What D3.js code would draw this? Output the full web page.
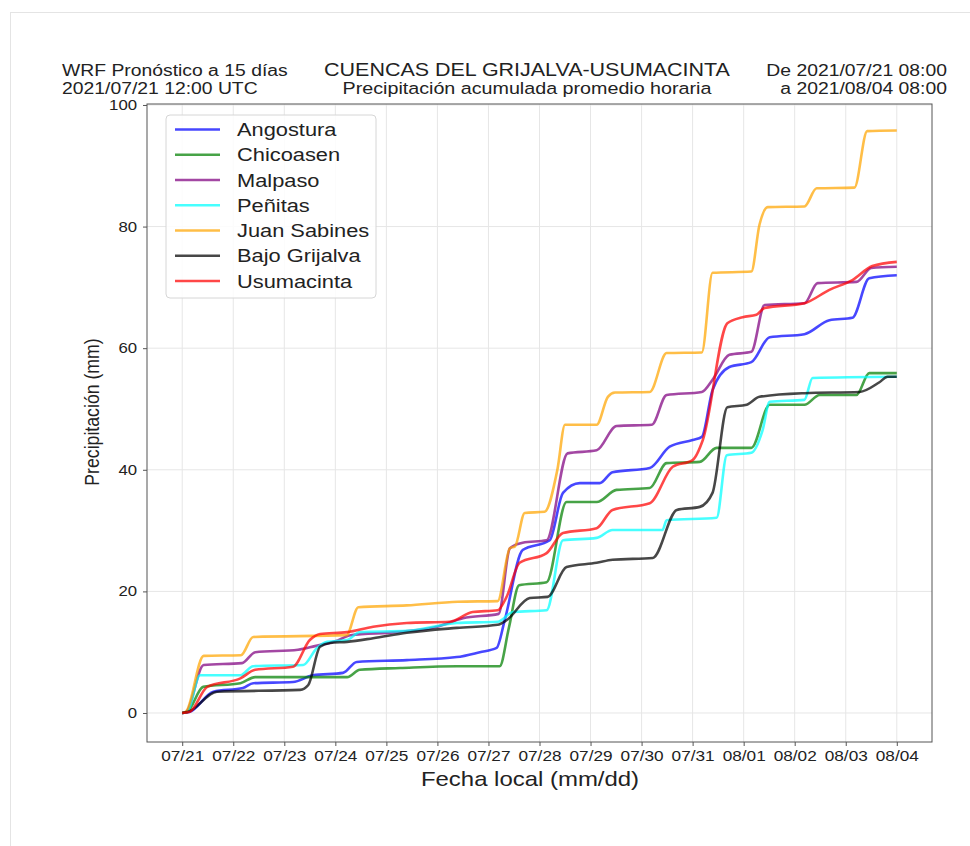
<!DOCTYPE html>
<html>
<head>
<meta charset="utf-8">
<script src="https://cdn.jsdelivr.net/npm/d3@7"></script>
<style>
  html, body { margin: 0; padding: 0; background: #ffffff; }
  svg { display: block; }
  text { font-family: "Liberation Sans", Arial, Helvetica, sans-serif; fill: #222; }
</style>
</head>
<body>
<svg id="chart" width="970" height="846"></svg>
<script>
// ---------------- DATA ----------------
// time in days from 07/21, value in mm (accumulated precipitation)
const seriesNames = ["Angostura", "Chicoasen", "Malpaso", "Peñitas", "Juan Sabines", "Bajo Grijalva", "Usumacinta"];
const seriesColors = ["#0000ff", "#008000", "#800080", "#00ffff", "#ffa500", "#000000", "#ff0000"];

const angostura = [[0,0],[0.15,0.2],[0.61,3.5],[1.19,4.1],[1.39,4.9],[2.17,5.1],[2.56,6.2],[3.15,6.6],[3.42,8.4],[4.4,8.7],[5.38,9.2],[5.83,10.0],[6.16,10.7],[6.32,15.3],[6.67,26.8],[7.2,28.4],[7.46,36.2],[7.79,37.8],[8.18,37.8],[8.43,39.6],[9.16,40.3],[9.55,43.8],[10.0,44.9],[10.18,45.4],[10.39,53.1],[10.72,56.9],[11.15,57.7],[11.51,61.8],[12.19,62.3],[12.68,64.6],[13.13,65.0],[13.46,71.5],[14,72.0]];
const chicoasen = [[0,0],[0.1,0.2],[0.41,4.3],[1.14,4.9],[1.43,5.9],[3.23,5.9],[3.48,7.1],[4.27,7.4],[5.38,7.7],[6.22,7.7],[6.4,14.0],[6.6,21.0],[7.14,21.5],[7.53,34.7],[8.12,34.7],[8.51,36.7],[9.16,37.0],[9.49,41.1],[10.14,41.3],[10.47,43.6],[11.15,43.6],[11.51,50.7],[12.19,50.7],[12.49,52.3],[13.21,52.3],[13.46,55.9],[14,55.9]];
const malpaso = [[0,0],[0.08,0.2],[0.42,7.9],[1.17,8.2],[1.43,10.0],[2.27,10.4],[2.6,11.0],[3.0,11.8],[3.3,12.8],[4.2,13.3],[5.0,14.2],[5.5,15.6],[6.2,16.3],[6.42,27.1],[6.67,28.0],[7.14,28.4],[7.55,42.7],[8.12,43.2],[8.51,47.2],[9.2,47.4],[9.49,52.3],[10.18,52.8],[10.39,54.8],[10.72,58.9],[11.15,59.4],[11.41,67.1],[12.19,67.4],[12.45,70.7],[13.21,70.9],[13.5,73.2],[14,73.4]];
const penitas = [[0,0],[0.1,0.2],[0.35,6.2],[1.14,6.2],[1.39,7.7],[2.37,7.9],[2.64,10.7],[2.84,11.7],[3.23,12.0],[3.48,13.3],[4.4,13.5],[5.38,14.8],[6.18,15.0],[6.48,16.6],[7.14,16.9],[7.46,28.4],[8.12,28.8],[8.43,30.1],[9.41,30.1],[9.49,31.7],[10.47,32.1],[10.67,42.4],[11.15,42.8],[11.37,46.5],[11.51,51.2],[12.19,51.5],[12.35,55.1],[14,55.3]];
const juanSabines = [[0,0],[0.08,0.3],[0.42,9.4],[1.15,9.5],[1.39,12.5],[3.22,12.8],[3.45,17.4],[4.4,17.7],[5.4,18.3],[6.18,18.4],[6.42,27.1],[6.52,27.4],[6.71,32.9],[7.1,33.1],[7.35,40.0],[7.5,47.4],[8.12,47.4],[8.34,52.0],[8.48,52.7],[9.16,52.8],[9.49,59.2],[10.18,59.3],[10.39,72.4],[11.15,72.6],[11.31,80.3],[11.47,83.2],[12.19,83.3],[12.43,86.3],[13.17,86.4],[13.42,95.7],[14,95.8]];
const bajoGrijalva = [[0,0],[0.12,0.2],[0.68,3.5],[2.31,3.8],[2.47,4.6],[2.7,10.9],[2.9,11.5],[3.23,11.7],[3.74,12.3],[4.4,13.2],[5.38,14.0],[6.18,14.5],[6.36,15.3],[6.81,18.9],[7.16,19.1],[7.53,24.0],[8.12,24.7],[8.43,25.2],[9.22,25.5],[9.69,33.4],[10.14,33.9],[10.39,36.2],[10.68,50.3],[11.06,50.7],[11.31,52.0],[12.19,52.6],[13.27,52.8],[13.66,54.4],[13.82,55.3],[14,55.3]];
const usumacinta = [[0,0],[0.15,0.2],[0.49,4.3],[1.14,5.7],[1.43,7.1],[2.17,7.6],[2.5,12.0],[2.7,13.0],[3.23,13.3],[3.74,14.2],[4.4,14.8],[5.24,15.0],[5.69,16.6],[6.18,16.9],[6.35,19.0],[6.61,24.7],[7.14,26.3],[7.46,29.6],[8.12,30.4],[8.43,33.4],[9.16,34.5],[9.61,40.5],[10.0,41.6],[10.2,44.9],[10.68,64.1],[10.98,65.1],[11.25,65.5],[11.41,66.6],[12.19,67.4],[12.68,69.6],[13.13,71.2],[13.52,73.5],[14,74.2]];

const seriesValues = [angostura, chicoasen, malpaso, penitas, juanSabines, bajoGrijalva, usumacinta];

const xTickDays = [0,1,2,3,4,5,6,7,8,9,10,11,12,13,14];
const xTickLabels = ["07/21","07/22","07/23","07/24","07/25","07/26","07/27","07/28","07/29","07/30","07/31","08/01","08/02","08/03","08/04"];
const yTickValues = [0,20,40,60,80,100];
const yTickLabels = ["0","20","40","60","80","100"];

const titleLeft = ["WRF Pronóstico a 15 días", "2021/07/21 12:00 UTC"];
const titleCenter = ["CUENCAS DEL GRIJALVA-USUMACINTA", "Precipitación acumulada promedio horaria"];
const titleRight = ["De 2021/07/21 08:00", "a 2021/08/04 08:00"];
const xAxisLabel = "Fecha local (mm/dd)";
const yAxisLabel = "Precipitación (mm)";

// ---------------- LAYOUT ----------------
const SX = 1.18; // horizontal stretch of the original figure's text
const plot = { left: 147, right: 932, top: 104, bottom: 742 };

const svg = d3.select("#chart");

// faint page frame of the reference image
svg.append("rect").attr("x", 10.5).attr("y", 12.5).attr("width", 980).attr("height", 860)
  .attr("fill", "none").attr("stroke", "#e4e4e4").attr("stroke-width", 1);

const x = d3.scaleLinear().domain([-0.69, 14.69]).range([plot.left, plot.right]);
const y = d3.scaleLinear().domain([-4.77, 100.16]).range([plot.bottom, plot.top]);

function stext(parent, px, py, str, size, anchor, extra) {
  return parent.append("text")
    .attr("transform", `translate(${px},${py}) scale(${SX},1)` + (extra || ""))
    .attr("text-anchor", anchor)
    .attr("font-size", size)
    .text(str);
}

// grid
const grid = svg.append("g");
grid.selectAll("line.vx").data(xTickDays).join("line")
  .attr("x1", d => x(d)).attr("x2", d => x(d))
  .attr("y1", plot.top).attr("y2", plot.bottom)
  .attr("stroke", "#e6e6e6").attr("stroke-width", 1);
grid.selectAll("line.hy").data(yTickValues).join("line")
  .attr("x1", plot.left).attr("x2", plot.right)
  .attr("y1", d => y(d)).attr("y2", d => y(d))
  .attr("stroke", "#e6e6e6").attr("stroke-width", 1);

// axes
const xAxis = d3.axisBottom(x).tickValues(xTickDays)
  .tickFormat((d, i) => xTickLabels[i]).tickSize(4).tickSizeOuter(0).tickPadding(5);
const gx = svg.append("g").attr("transform", `translate(0,${plot.bottom})`).call(xAxis);
gx.select(".domain").remove();
gx.selectAll(".tick line").attr("stroke", "#555");
gx.selectAll(".tick text")
  .attr("font-size", 14.6)
  .attr("font-family", "Liberation Sans, Arial, sans-serif")
  .attr("fill", "#222")
  .attr("transform", `scale(${SX},1)`);

const yAxis = d3.axisLeft(y).tickValues(yTickValues)
  .tickFormat((d, i) => yTickLabels[i]).tickSize(4).tickSizeOuter(0).tickPadding(6);
const gy = svg.append("g").attr("transform", `translate(${plot.left},0)`).call(yAxis);
gy.select(".domain").remove();
gy.selectAll(".tick line").attr("stroke", "#555");
gy.selectAll(".tick text")
  .attr("font-size", 14.2)
  .attr("font-family", "Liberation Sans, Arial, sans-serif")
  .attr("fill", "#222")
  .attr("x", -10 / SX)
  .attr("transform", `scale(${SX},1)`);

// lines
const line = d3.line().x(d => x(d[0])).y(d => y(d[1])).curve(d3.curveMonotoneX);
const lines = svg.append("g");
seriesValues.forEach((vals, i) => {
  lines.append("path").datum(vals)
    .attr("d", line)
    .attr("fill", "none")
    .attr("stroke", seriesColors[i])
    .attr("stroke-opacity", 0.72)
    .attr("stroke-width", 2.6)
    .attr("stroke-linejoin", "round");
});

// frame
svg.append("rect")
  .attr("x", plot.left).attr("y", plot.top)
  .attr("width", plot.right - plot.left).attr("height", plot.bottom - plot.top)
  .attr("fill", "none").attr("stroke", "#555").attr("stroke-width", 1);

// legend
const leg = svg.append("g");
leg.append("rect").attr("x", 166).attr("y", 115).attr("width", 210).attr("height", 183)
  .attr("rx", 4).attr("fill", "#ffffff").attr("fill-opacity", 0.85)
  .attr("stroke", "#d6d6d6").attr("stroke-width", 1);
seriesNames.forEach((name, i) => {
  const ry = 129.5 + i * 25.25;
  leg.append("line").attr("x1", 175).attr("x2", 220).attr("y1", ry).attr("y2", ry)
    .attr("stroke", seriesColors[i]).attr("stroke-opacity", 0.72).attr("stroke-width", 2.6);
  stext(leg, 237, ry + 6.5, name, 18.5, "start");
});

// titles
stext(svg, 62, 76, titleLeft[0], 16.4, "start");
stext(svg, 62, 94, titleLeft[1], 16.4, "start");
stext(svg, 527, 76, titleCenter[0], 18.2, "middle");
stext(svg, 527, 94, titleCenter[1], 16.7, "middle");
stext(svg, 947, 76, titleRight[0], 16.4, "end");
stext(svg, 947, 94, titleRight[1], 16.4, "end");

// axis labels
stext(svg, 530, 786, xAxisLabel, 20.3, "middle");
svg.append("text")
  .attr("transform", `translate(99,412) scale(${SX},1) rotate(-90)`)
  .attr("text-anchor", "middle")
  .attr("font-size", 17.7)
  .text(yAxisLabel);
</script>
</body>
</html>
